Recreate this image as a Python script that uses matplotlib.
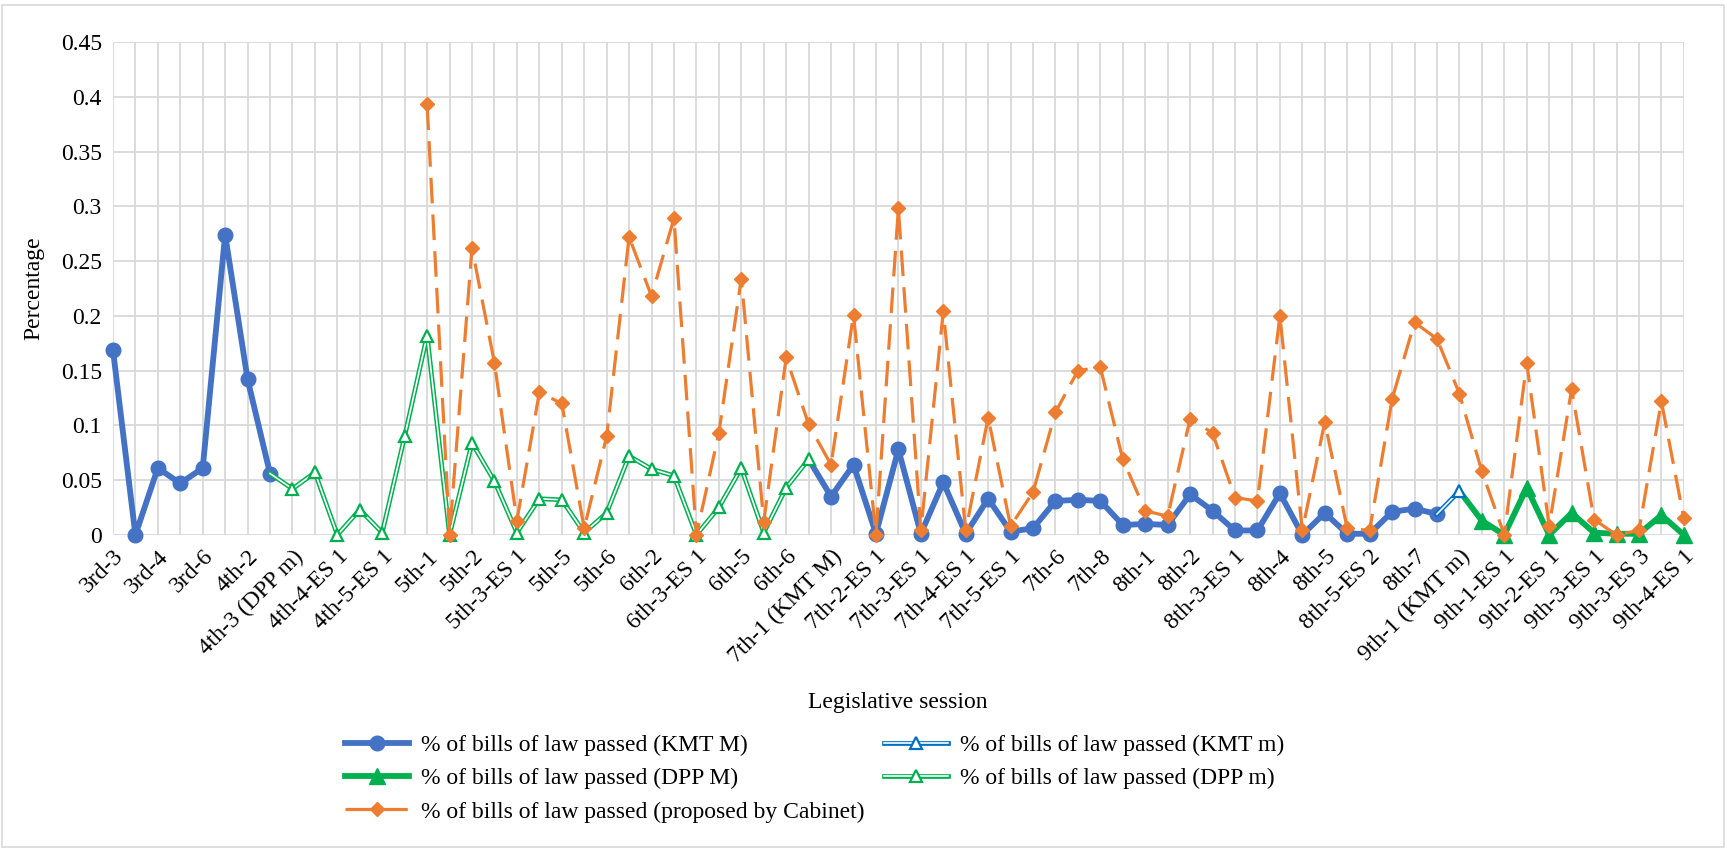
import numpy as np
import matplotlib.pyplot as plt
import matplotlib.patheffects as pe
from matplotlib.legend_handler import HandlerTuple
from matplotlib.patches import Rectangle

plt.rcParams['font.family'] = 'serif'
plt.rcParams['font.serif'] = ['Liberation Serif', 'DejaVu Serif']

nan = np.nan

# legislative sessions (every other one is labelled on the axis)
sessions = [
    '3rd-3', '3rd-3-ES 1', '3rd-4', '3rd-5', '3rd-6', '4th-1', '4th-2', '4th-3 (KMT M)',
    '4th-3 (DPP m)', '4th-4', '4th-4-ES 1', '4th-5', '4th-5-ES 1', '4th-6', '5th-1',
    '5th-1-ES 1', '5th-2', '5th-3', '5th-3-ES 1', '5th-4', '5th-5', '5th-5-ES 1', '5th-6',
    '6th-1', '6th-2', '6th-3', '6th-3-ES 1', '6th-4', '6th-5', '6th-5-ES 1', '6th-6',
    '7th-1 (DPP m)', '7th-1 (KMT M)', '7th-2', '7th-2-ES 1', '7th-3', '7th-3-ES 1', '7th-4',
    '7th-4-ES 1', '7th-5', '7th-5-ES 1', '7th-5-ES 2', '7th-6', '7th-7', '7th-8',
    '7th-8-ES 1', '8th-1', '8th-1-ES 1', '8th-2', '8th-3', '8th-3-ES 1', '8th-3-ES 2',
    '8th-4', '8th-4-ES 1', '8th-5', '8th-5-ES 1', '8th-5-ES 2', '8th-6', '8th-7', '8th-8',
    '9th-1 (KMT m)', '9th-1 (DPP M)', '9th-1-ES 1', '9th-2', '9th-2-ES 1', '9th-3',
    '9th-3-ES 1', '9th-3-ES 2', '9th-3-ES 3', '9th-4', '9th-4-ES 1',
]

kmt_major = [
    0.169, 0.0, 0.061, 0.047, 0.061, 0.274, 0.142, 0.056,
    nan, nan, nan, nan, nan, nan, nan, nan, nan, nan, nan, nan, nan, nan, nan,
    nan, nan, nan, nan, nan, nan, nan, nan,
    0.069, 0.035, 0.064, 0.001, 0.078, 0.001, 0.048, 0.001, 0.033, 0.003, 0.006,
    0.031, 0.032, 0.031, 0.009, 0.010, 0.009, 0.037, 0.022, 0.004, 0.004, 0.038,
    0.0, 0.020, 0.001, 0.001, 0.021, 0.024, 0.019,
    nan, nan, nan, nan, nan, nan, nan, nan, nan, nan, nan,
]

kmt_minor = [nan] * 59 + [0.019, 0.040] + [nan] * 10

dpp_major = [nan] * 60 + [0.040, 0.013, 0.0, 0.043, 0.0, 0.020, 0.002, 0.001,
                          0.001, 0.018, 0.0]

dpp_minor = [nan] * 7 + [
    0.056, 0.042, 0.057, 0.0, 0.023, 0.002, 0.090, 0.182, 0.0, 0.084, 0.049,
    0.002, 0.033, 0.032, 0.002, 0.020, 0.072, 0.060, 0.054, 0.0, 0.025, 0.061,
    0.002, 0.043, 0.069,
] + [nan] * 39

cabinet = [nan] * 14 + [
    0.393, 0.0, 0.262, 0.157, 0.013, 0.130, 0.120, 0.006, 0.090, 0.272, 0.218,
    0.289, 0.0, 0.093, 0.234, 0.012, 0.162, 0.101, 0.064, 0.201, 0.0, 0.298,
    0.004, 0.204, 0.004, 0.107, 0.008, 0.039, 0.112, 0.150, 0.153, 0.069, 0.022,
    0.017, 0.106, 0.093, 0.034, 0.031, 0.200, 0.004, 0.103, 0.006, 0.004, 0.124,
    0.194, 0.179, 0.129, 0.058, 0.0, 0.157, 0.008, 0.133, 0.014, 0.0, 0.004,
    0.122, 0.015,
]

x = np.arange(len(sessions))
n = len(sessions)

fig = plt.figure(figsize=(17.27, 8.49), dpi=100)
ax = fig.add_axes([0.0654, 0.370, 0.9096, 0.5805])

blue = '#4472C4'
blue2 = '#0070C0'
green = '#00B050'
orange = '#ED7D31'

double = lambda c: [pe.Stroke(linewidth=3.4, foreground=c),
                    pe.Stroke(linewidth=1.2, foreground='white')]

# hand-over points are only linking segments, no markers there
l1, = ax.plot(x, kmt_major, color=blue, lw=4.2, marker='o', ms=10.5,
              markevery=[i for i in range(n) if i != 31], clip_on=False, zorder=3)

l2a, = ax.plot(x, kmt_minor, color=blue2, lw=3.4, path_effects=double(blue2),
               clip_on=False, zorder=3)
l2b, = ax.plot(x, kmt_minor, ls='none', marker='^', ms=9, mfc='white',
               mec=blue2, mew=1.6, markevery=[60], clip_on=False, zorder=4)

l3, = ax.plot(x, dpp_major, color=green, lw=4.2, marker='^', ms=11,
              markevery=[i for i in range(n) if i != 60], clip_on=False, zorder=3.5)

l4a, = ax.plot(x, dpp_minor, color=green, lw=3.4, path_effects=double(green),
               clip_on=False, zorder=4)
l4b, = ax.plot(x, dpp_minor, ls='none', marker='^', ms=9, mfc='white',
               mec=green, mew=1.6, markevery=[i for i in range(n) if i != 7],
               clip_on=False, zorder=4)

l5, = ax.plot(x, cabinet, color=orange, lw=2.3, dashes=(8, 3.5), marker='D',
              ms=7.5, clip_on=False, zorder=5)

ax.set_xlim(0, n - 1)
ax.set_ylim(0, 0.45)
ax.set_yticks(np.arange(0, 0.451, 0.05))
ax.set_yticklabels(['0', '0.05', '0.1', '0.15', '0.2', '0.25', '0.3', '0.35', '0.4', '0.45'],
                   fontsize=17)
ax.set_xticks(x)
ax.set_xticklabels([s if i % 2 == 0 else '' for i, s in enumerate(sessions)],
                   rotation=45, ha='right', rotation_mode='anchor', fontsize=17)
ax.tick_params(length=0, pad=8)
ax.grid(True, color='#D9D9D9', lw=1.3)
ax.set_axisbelow(True)
for s in ax.spines.values():
    s.set_visible(False)

ax.set_ylabel('Percentage', fontsize=17, labelpad=12)
fig.text(0.52, 0.172, 'Legislative session', ha='center', va='center', fontsize=17)

# legend: two independent columns, like the original
leg_kw = dict(frameon=False, fontsize=17, handlelength=2.7, handletextpad=0.5,
              labelspacing=0.5, numpoints=1, borderpad=0, borderaxespad=0,
              loc='upper left', handler_map={tuple: HandlerTuple(ndivide=1)})
leg1 = fig.legend([l1, l3, l5],
                  ['% of bills of law passed (KMT M)', '% of bills of law passed (DPP M)',
                   '% of bills of law passed (proposed by Cabinet)'],
                  bbox_to_anchor=(0.200, 0.135), **leg_kw)
leg2 = fig.legend([(l2a, l2b), (l4a, l4b)],
                  ['% of bills of law passed (KMT m)', '% of bills of law passed (DPP m)'],
                  bbox_to_anchor=(0.512, 0.135), **leg_kw)

fig.patches.append(Rectangle((0.001, 0.002), 0.997, 0.992, transform=fig.transFigure,
                             fill=False, edgecolor='#D9D9D9', lw=1.2))

fig.savefig('out.png', dpi=100)
